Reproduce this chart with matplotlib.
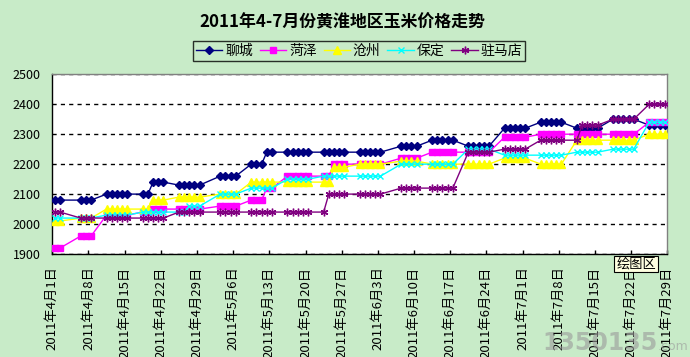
import numpy as np
import pandas as pd
import matplotlib
matplotlib.use('Agg')
import matplotlib.pyplot as plt

plt.rcParams['font.family'] = ['Noto Sans CJK SC', 'DejaVu Sans']

# trading days, 2011
dates = ['04-01', '04-02', '04-06', '04-07', '04-08',
         '04-11', '04-12', '04-13', '04-14', '04-15',
         '04-18', '04-19', '04-20', '04-21', '04-22',
         '04-25', '04-26', '04-27', '04-28', '04-29',
         '05-03', '05-04', '05-05', '05-06',
         '05-09', '05-10', '05-11', '05-12', '05-13',
         '05-16', '05-17', '05-18', '05-19', '05-20',
         '05-23', '05-24', '05-25', '05-26', '05-27',
         '05-30', '05-31', '06-01', '06-02', '06-03',
         '06-07', '06-08', '06-09', '06-10',
         '06-13', '06-14', '06-15', '06-16', '06-17',
         '06-20', '06-21', '06-22', '06-23', '06-24',
         '06-27', '06-28', '06-29', '06-30', '07-01',
         '07-04', '07-05', '07-06', '07-07', '07-08',
         '07-11', '07-12', '07-13', '07-14', '07-15',
         '07-18', '07-19', '07-20', '07-21', '07-22',
         '07-25', '07-26', '07-27', '07-28']

liaocheng = [2080, 2080, 2080, 2080, 2080,
             2100, 2100, 2100, 2100, 2100,
             2100, 2100, 2140, 2140, 2140,
             2130, 2130, 2130, 2130, 2130,
             2160, 2160, 2160, 2160,
             2200, 2200, 2200, 2240, 2240,
             2240, 2240, 2240, 2240, 2240,
             2240, 2240, 2240, 2240, 2240,
             2240, 2240, 2240, 2240, 2240,
             2260, 2260, 2260, 2260,
             2280, 2280, 2280, 2280, 2280,
             2260, 2260, 2260, 2260, 2260,
             2320, 2320, 2320, 2320, 2320,
             2340, 2340, 2340, 2340, 2340,
             2320, 2320, 2320, 2320, 2320,
             2350, 2350, 2350, 2350, 2350,
             2330, 2330, 2330, 2330]

heze = [1920, 1920, 1960, 1960, 1960,
        2030, 2030, 2030, 2030, 2030,
        2040, 2040, 2050, 2050, 2050,
        2050, 2050, 2050, 2050, 2050,
        2060, 2060, 2060, 2060,
        2080, 2080, 2080, 2120, 2120,
        2160, 2160, 2160, 2160, 2160,
        2160, 2160, 2200, 2200, 2200,
        2200, 2200, 2200, 2200, 2200,
        2220, 2220, 2220, 2220,
        2240, 2240, 2240, 2240, 2240,
        2240, 2240, 2240, 2240, 2240,
        2290, 2290, 2290, 2290, 2290,
        2300, 2300, 2300, 2300, 2300,
        2300, 2300, 2300, 2300, 2300,
        2300, 2300, 2300, 2300, 2300,
        2340, 2340, 2340, 2340]

cangzhou = [2010, 2010, 2020, 2020, 2020,
            2050, 2050, 2050, 2050, 2050,
            2050, 2050, 2080, 2080, 2080,
            2090, 2090, 2090, 2090, 2090,
            2100, 2100, 2100, 2100,
            2140, 2140, 2140, 2140, 2140,
            2140, 2140, 2140, 2140, 2140,
            2140, 2140, 2190, 2190, 2190,
            2200, 2200, 2200, 2200, 2200,
            2210, 2210, 2210, 2210,
            2200, 2200, 2200, 2200, 2200,
            2200, 2200, 2200, 2200, 2200,
            2220, 2220, 2220, 2220, 2220,
            2200, 2200, 2200, 2200, 2200,
            2280, 2280, 2280, 2280, 2280,
            2280, 2280, 2280, 2280, 2280,
            2300, 2300, 2300, 2300]

baoding = [2020, 2020, 2020, 2020, 2020,
           2030, 2030, 2030, 2030, 2030,
           2040, 2040, 2040, 2040, 2040,
           2040, 2040, 2060, 2060, 2060,
           2100, 2100, 2100, 2100,
           2120, 2120, 2120, 2120, 2120,
           2150, 2150, 2150, 2150, 2150,
           2160, 2160, 2160, 2160, 2160,
           2160, 2160, 2160, 2160, 2160,
           2200, 2200, 2200, 2200,
           2200, 2200, 2200, 2200, 2200,
           2250, 2250, 2250, 2250, 2250,
           2230, 2230, 2230, 2230, 2230,
           2230, 2230, 2230, 2230, 2230,
           2240, 2240, 2240, 2240, 2240,
           2250, 2250, 2250, 2250, 2250,
           2340, 2340, 2340, 2340]

zhumadian = [2040, 2040, 2020, 2020, 2020,
             2020, 2020, 2020, 2020, 2020,
             2020, 2020, 2020, 2020, 2020,
             2040, 2040, 2040, 2040, 2040,
             2040, 2040, 2040, 2040,
             2040, 2040, 2040, 2040, 2040,
             2040, 2040, 2040, 2040, 2040,
             2040, 2100, 2100, 2100, 2100,
             2100, 2100, 2100, 2100, 2100,
             2120, 2120, 2120, 2120,
             2120, 2120, 2120, 2120, 2120,
             2240, 2240, 2240, 2240, 2240,
             2250, 2250, 2250, 2250, 2250,
             2280, 2280, 2280, 2280, 2280,
             2280, 2330, 2330, 2330, 2330,
             2350, 2350, 2350, 2350, 2350,
             2400, 2400, 2400, 2400]

names = ['聊城', '菏泽', '沧州', '保定', '驻马店']
tick_labels = ['2011年4月1日', '2011年4月8日', '2011年4月15日', '2011年4月22日',
               '2011年4月29日', '2011年5月6日', '2011年5月13日', '2011年5月20日',
               '2011年5月27日', '2011年6月3日', '2011年6月10日', '2011年6月17日',
               '2011年6月24日', '2011年7月1日', '2011年7月8日', '2011年7月15日',
               '2011年7月22日', '2011年7月29日']

start = pd.Timestamp('2011-04-01')
days = np.array([(pd.Timestamp('2011-' + d) - start).days for d in dates])
x = days + 0.5   # excel date axis puts each day in the middle of its slot

bg = '#C8EBC8'
fig = plt.figure(figsize=(6.9, 3.57), dpi=100, facecolor=bg)
ax = fig.add_axes([0.0758, 0.2885, 0.8913, 0.5034])
ax.set_facecolor('white')

styles = [
    dict(color='#000080', marker='D', ms=4.5, mec='#000080', mfc='#000080'),
    dict(color='#FF00FF', marker='s', ms=4.8, mec='#FF00FF', mfc='#FF00FF'),
    dict(color='#FFFF00', marker='^', ms=5.5, mec='#FFFF00', mfc='#FFFF00'),
    dict(color='#00FFFF', marker='x', ms=4.5, mew=1.0),
    dict(color='#800080', marker=(6, 2, 0), ms=5.5, mew=1.0),
]
series = [liaocheng, heze, cangzhou, baoding, zhumadian]
for i, (vals, name, st) in enumerate(zip(series, names, styles)):
    ax.plot(x, vals, lw=1.0, label=name, zorder=3 + i, **st)

ax.set_xlim(0, 119)
ax.set_ylim(1900, 2500)
ax.set_yticks(np.arange(1900, 2501, 100))
ax.set_xticks(np.arange(0, 120, 7))
ax.set_xticklabels(tick_labels, rotation=90, fontsize=9.5, va='top', ha='center')
ax.tick_params(axis='x', direction='in', length=3, width=1, pad=9)
ax.tick_params(axis='y', length=0, pad=8.5, labelsize=9)

ax.grid(axis='y', ls=(0, (3, 3)), color='black', lw=1)
ax.set_axisbelow(True)
for s in ['left', 'bottom']:
    ax.spines[s].set_color('black')
    ax.spines[s].set_linewidth(1)
for s in ['top', 'right']:
    ax.spines[s].set_color('#808080')
    ax.spines[s].set_linewidth(1)

fig.text(342 / 690, 1 - 22 / 357, '2011年4-7月份黄淮地区玉米价格走势',
         ha='center', va='center', fontsize=12.2, fontweight='bold')

leg = fig.legend(loc='center', bbox_to_anchor=(359 / 690, 1 - 51 / 357), ncol=5,
                 fontsize=10, frameon=True, fancybox=False, shadow=False,
                 handlelength=1.9, handletextpad=0.2, columnspacing=0.5,
                 borderpad=0.2, borderaxespad=0)
leg.get_frame().set_edgecolor('black')
leg.get_frame().set_facecolor(bg)
leg.get_frame().set_linewidth(1)

# excel tooltip left in the screenshot
fig.text(636 / 690, 1 - 264 / 357, '绘图区', ha='center', va='center', fontsize=9.5,
         zorder=5, bbox=dict(boxstyle='square,pad=0.15', fc='#FFFFE1', ec='black', lw=0.8))

# site watermark drawn over the labels, as in the screenshot
fig.text(600 / 690, 1 - 343 / 357, '1350135', ha='center', va='center', fontsize=17,
         fontweight='bold', color='#9A9A9A', alpha=0.6, family='DejaVu Sans')
fig.text(673 / 690, 1 - 347 / 357, '.com', ha='center', va='center', fontsize=9,
         color='#9A9A9A', alpha=0.6, family='DejaVu Sans')

fig.savefig('out.png', dpi=100, facecolor=bg)
